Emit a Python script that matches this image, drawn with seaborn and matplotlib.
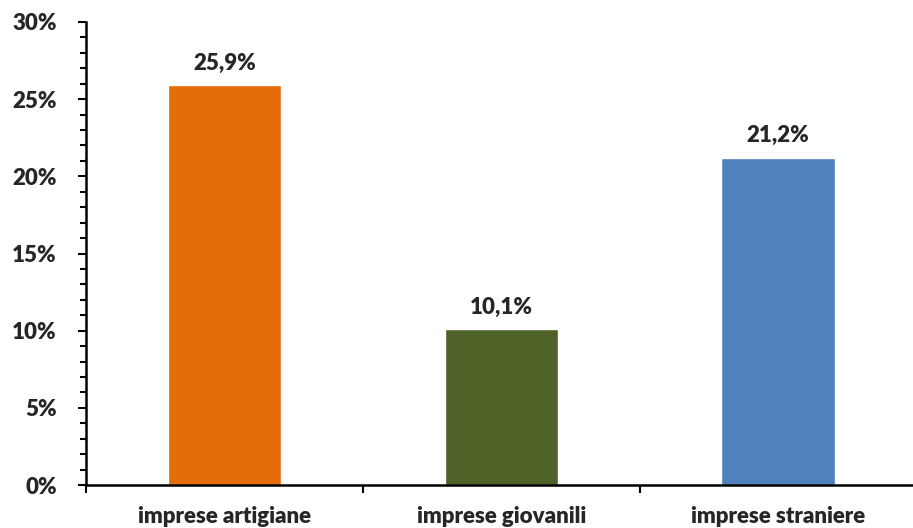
import matplotlib.pyplot as plt
import matplotlib.ticker as mticker
import pandas as pd
import seaborn as sns

# Data
categories = ['imprese artigiane', 'imprese giovanili', 'imprese straniere']
values = [25.9, 10.1, 21.2]
labels = ['25,9%', '10,1%', '21,2%']
colors = ['#E46C0A', '#4F6228', '#4F81BD']

df = pd.DataFrame({'categoria': categories, 'quota': values})

sns.set_style('white')
plt.rcParams['font.family'] = ['Lato', 'DejaVu Sans']
weight = 'heavy'

fig = plt.figure(figsize=(9.13, 5.28), dpi=100)
ax = fig.add_axes([86 / 913, 1 - 485 / 528, 1 - 86 / 913 + 0.004, (485 - 22) / 528])

sns.barplot(data=df, x='categoria', y='quota', hue='categoria', palette=colors,
            width=0.41, legend=False, ax=ax, saturation=1)

# value labels above the bars
for i, (v, lab) in enumerate(zip(values, labels)):
    ax.text(i, v + 0.75, lab, ha='center', va='bottom', fontsize=16, fontweight=weight)

ax.set_ylim(0, 30)
ax.set_xlim(-0.5, 2.5)
ax.yaxis.set_major_locator(mticker.MultipleLocator(5))
ax.yaxis.set_minor_locator(mticker.MultipleLocator(1))
ax.yaxis.set_major_formatter(mticker.FuncFormatter(lambda y, _: f'{y:.0f}%'))

# category ticks sit on the boundaries between bars, labels in the middle
ax.set_xticks([-0.5, 0.5, 1.5, 2.5])
ax.set_xticklabels([])
ax.set_xticks([0, 1, 2], minor=True)
ax.set_xticklabels(categories, minor=True, fontsize=16, fontweight=weight)
ax.tick_params(axis='x', which='minor', length=0, pad=15)
ax.tick_params(axis='x', which='major', direction='out', length=6, width=1.5, color='black', bottom=True)
ax.tick_params(axis='y', which='both', direction='out', width=1.5, color='black', left=True)
ax.tick_params(axis='y', which='major', length=6, labelsize=16, pad=15)
ax.tick_params(axis='y', which='minor', length=4.5)
for t in ax.get_yticklabels():
    t.set_fontweight(weight)

ax.set_xlabel('')
ax.set_ylabel('')
for side in ['top', 'right']:
    ax.spines[side].set_visible(False)
for side in ['left', 'bottom']:
    ax.spines[side].set_color('black')
    ax.spines[side].set_linewidth(1.8)

fig.savefig('out.png', dpi=100)
